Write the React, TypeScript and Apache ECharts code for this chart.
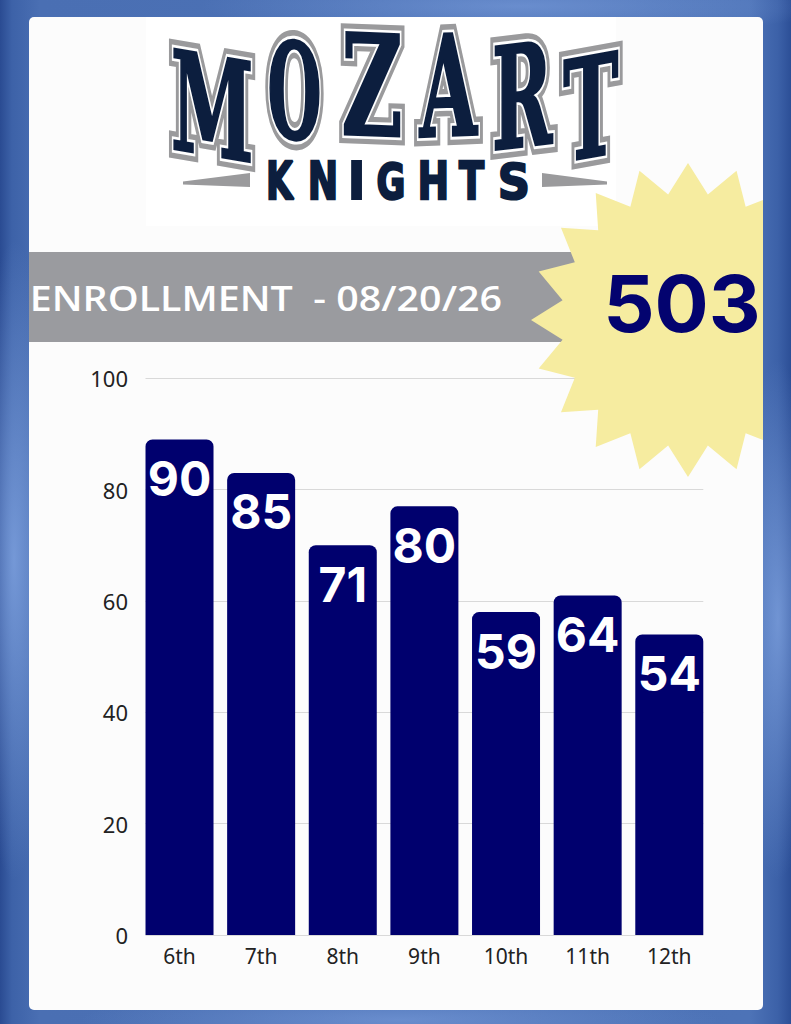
import React, { useEffect, useRef } from 'react';
import * as echarts from 'echarts';

// ---------- data ----------
const grades = ['6th', '7th', '8th', '9th', '10th', '11th', '12th'];
const barValues = [89, 83, 70, 77, 58, 61, 54];
const barLabels = ['90', '85', '71', '80', '59', '64', '54'];
const totalLabel = '503';
const titleText = 'ENROLLMENT\u00A0\u00A0- 08/20/26';
const schoolName = 'MOZART';
const teamName = 'KNIGHTS';
const yMin = 0;
const yMax = 100;
const yStep = 20;

// ---------- layout (page coords) ----------
const PW = 791;
const PH = 1024;
const CARD = { x: 29, y: 17, w: 734, h: 993 };
const NAVY = '#0c1e3e';
const GRAY = '#9a9a9c';

// glyph boxes [x0, y0, x1, y1] and arch skew for school letters
const schoolBoxes = [
  [174, 55, 250, 155, -0.17],
  [270, 40, 319, 139, -0.1],
  [344, 33, 400, 135, -0.04],
  [419, 33, 478, 135, 0.04],
  [495, 43, 553, 146, 0.12],
  [564, 55, 618, 156, 0.18],
];
const teamBoxes = [
  [269, 161, 294, 199],
  [311, 161, 335, 199],
  [352, 161, 361, 199],
  [378, 161, 403, 199],
  [421, 161, 446, 199],
  [459, 161, 484, 199],
  [501, 161, 527, 199],
];

let _ctx: CanvasRenderingContext2D | null = null;
function getCtx() {
  if (!_ctx) _ctx = document.createElement('canvas').getContext('2d');
  return _ctx!;
}

type Layer = { fill: string; stroke?: string; w?: number };

function glyphGroup(
  text: string,
  family: string,
  weight: string,
  box: number[],
  layers: Layer[],
  skewY = 0,
  z = 12
) {
  const [x0, y0, x1, y1] = box;
  const size = 100;
  const ctx = getCtx();
  ctx.font = `${weight} ${size}px ${family}`;
  ctx.textAlign = 'center';
  ctx.textBaseline = 'alphabetic';
  const m: any = ctx.measureText(text);
  const aL = m.actualBoundingBoxLeft;
  const aR = m.actualBoundingBoxRight;
  const aA = m.actualBoundingBoxAscent;
  const aD = m.actualBoundingBoxDescent;
  const fA = m.fontBoundingBoxAscent ?? size * 0.93;
  const fD = m.fontBoundingBoxDescent ?? size * 0.24;
  const sx = (x1 - x0) / (aL + aR);
  const sy = (y1 - y0) / (aA + aD);
  const dx = (aR - aL) / 2;
  const dy = (fA - fD) / 2 + (aD - aA) / 2;
  const k = Math.sqrt(sx * sy);
  return {
    type: 'group',
    x: (x0 + x1) / 2,
    y: (y0 + y1) / 2,
    skewY,
    z,
    children: layers.map((L) => ({
      type: 'text',
      x: -dx * sx,
      y: -dy * sy,
      scaleX: sx,
      scaleY: sy,
      z,
      style: {
        text,
        fontFamily: family,
        fontWeight: weight,
        fontSize: size,
        align: 'center',
        verticalAlign: 'middle',
        fill: L.fill,
        stroke: L.stroke || null,
        lineWidth: L.stroke ? (L.w || 0) / k : 0,
        lineJoin: 'miter',
      },
    })),
  };
}

function starPoints(cx: number, cy: number, rOut: number, rIn: number, n: number) {
  const pts: number[][] = [];
  for (let i = 0; i < n * 2; i++) {
    const r = i % 2 === 0 ? rOut : rIn;
    const a = -Math.PI / 2 + (i * Math.PI) / n;
    pts.push([cx + r * Math.cos(a), cy + r * Math.sin(a)]);
  }
  return pts;
}

// clip polygon to x <= xmax (Sutherland-Hodgman, one edge)
function clipRight(pts: number[][], xmax: number) {
  const out: number[][] = [];
  for (let i = 0; i < pts.length; i++) {
    const cur = pts[i];
    const prev = pts[(i + pts.length - 1) % pts.length];
    const cIn = cur[0] <= xmax;
    const pIn = prev[0] <= xmax;
    const cross = () => {
      const t = (xmax - prev[0]) / (cur[0] - prev[0]);
      return [xmax, prev[1] + t * (cur[1] - prev[1])];
    };
    if (cIn) {
      if (!pIn) out.push(cross());
      out.push(cur);
    } else if (pIn) {
      out.push(cross());
    }
  }
  return out;
}

function buildGraphics() {
  const els: any[] = [];
  const cardRight = CARD.x + CARD.w;
  // subtle white logo panel
  els.push({ type: 'rect', z: 9, shape: { x: 146, y: CARD.y, width: 470, height: 226 - CARD.y }, style: { fill: '#ffffff' } });
  // gray band
  els.push({ type: 'rect', z: 10, shape: { x: CARD.x, y: 252, width: 600 - CARD.x, height: 90 }, style: { fill: '#9a9b9f' } });
  // starburst (clipped to the card)
  els.push({
    type: 'polygon',
    z: 11,
    shape: { points: clipRight(starPoints(688, 320, 157, 127, 20), cardRight) },
    style: { fill: '#f6eca0' },
  });
  // total
  els.push(glyphGroup(totalLabel, 'Inter', 'bold', [608, 274, 757, 333], [{ fill: '#03036f' }], 0, 12));
  // title
  els.push(glyphGroup(titleText, 'Open Sans', '600', [33, 285, 501, 311], [{ fill: '#ffffff' }], 0, 12));
  // logo: school name
  schoolName.split('').forEach((ch, i) => {
    const b = schoolBoxes[i];
    els.push(
      glyphGroup(
        ch,
        'DejaVu Serif',
        'bold',
        [b[0], b[1], b[2], b[3]],
        [
          { fill: GRAY, stroke: GRAY, w: 14 },
          { fill: '#ffffff', stroke: '#ffffff', w: 6 },
          { fill: NAVY, stroke: NAVY, w: 2 },
        ],
        b[4],
        12
      )
    );
  });
  // logo: team name
  teamName.split('').forEach((ch, i) => {
    els.push(glyphGroup(ch, 'DejaVu Sans', 'bold', teamBoxes[i], [{ fill: NAVY, stroke: NAVY, w: 2 }], 0, 12));
  });
  // tapered bars
  els.push({
    type: 'polygon',
    z: 12,
    shape: { points: [[183, 181.5], [250, 173], [250, 187], [183, 184.5]] },
    style: { fill: GRAY },
  });
  els.push({
    type: 'polygon',
    z: 12,
    shape: { points: [[542, 173], [607, 181.5], [607, 184.5], [542, 187]] },
    style: { fill: GRAY },
  });
  return els;
}

export default function App() {
  const ref = useRef<HTMLDivElement>(null);
  useEffect(() => {
    if (!ref.current) return;
    const chart = echarts.init(ref.current, undefined, { renderer: 'svg' });
    const gridTop = 378.3;
    const gridH = 935 - 378.3;
    chart.setOption({
      animation: false,
      grid: [
        { left: 138.7, top: gridTop, width: 571.4, height: gridH },
        { left: 145.5, top: gridTop, width: 557.8, height: gridH },
      ],
      xAxis: [
        {
          gridIndex: 0,
          type: 'category',
          data: grades,
          axisLine: { show: false },
          axisTick: { show: false },
          axisLabel: { margin: 10, fontSize: 21, color: '#222', fontFamily: 'Noto Sans' },
        },
        { gridIndex: 1, type: 'category', data: grades, show: false },
      ],
      yAxis: [
        { gridIndex: 0, type: 'value', min: yMin, max: yMax, interval: yStep, show: false },
        {
          gridIndex: 1,
          type: 'value',
          min: yMin,
          max: yMax,
          interval: yStep,
          axisLine: { show: false },
          axisTick: { show: false },
          axisLabel: { margin: 17.5, fontSize: 22, color: '#222', fontFamily: 'Noto Sans' },
          splitLine: { show: true, lineStyle: { color: '#d9d9d9', width: 1 } },
        },
      ],
      series: [
        {
          type: 'bar',
          xAxisIndex: 0,
          yAxisIndex: 0,
          data: barValues,
          barWidth: 68,
          itemStyle: { color: '#00006e', borderRadius: [7, 7, 0, 0] },
          label: {
            show: true,
            position: 'insideTop',
            distance: 15,
            formatter: (p: any) => barLabels[p.dataIndex],
            color: '#ffffff',
            fontSize: 48,
            fontWeight: 'bold',
            fontFamily: 'Inter',
          },
        },
      ],
      graphic: { elements: buildGraphics() },
    });
    return () => chart.dispose();
  }, []);

  const bg = [
    'radial-gradient(ellipse 40px 320px at 14px 560px, rgba(135,170,230,0.75), rgba(135,170,230,0))',
    'radial-gradient(ellipse 40px 260px at 778px 620px, rgba(135,170,230,0.7), rgba(135,170,230,0))',
    'radial-gradient(ellipse 320px 30px at 520px 6px, rgba(125,160,222,0.6), rgba(125,160,222,0))',
    'radial-gradient(ellipse 320px 30px at 400px 1020px, rgba(125,160,222,0.6), rgba(125,160,222,0))',
    'linear-gradient(90deg, #2a4b92 0px, #3d62a8 12px, #4a6fb3 40px, #4d73b7 750px, #3c61a8 778px, #2c4f97 791px)',
  ].join(',');

  return (
    <div style={{ position: 'fixed', left: 0, top: 0, width: PW, height: PH, background: bg, overflow: 'hidden' }}>
      <div
        style={{
          position: 'absolute',
          left: CARD.x,
          top: CARD.y,
          width: CARD.w,
          height: CARD.h,
          background: '#fcfcfc',
          borderRadius: 5,
        }}
      />
      <div ref={ref} style={{ position: 'absolute', left: 0, top: 0, width: PW, height: PH }} />
    </div>
  );
}
